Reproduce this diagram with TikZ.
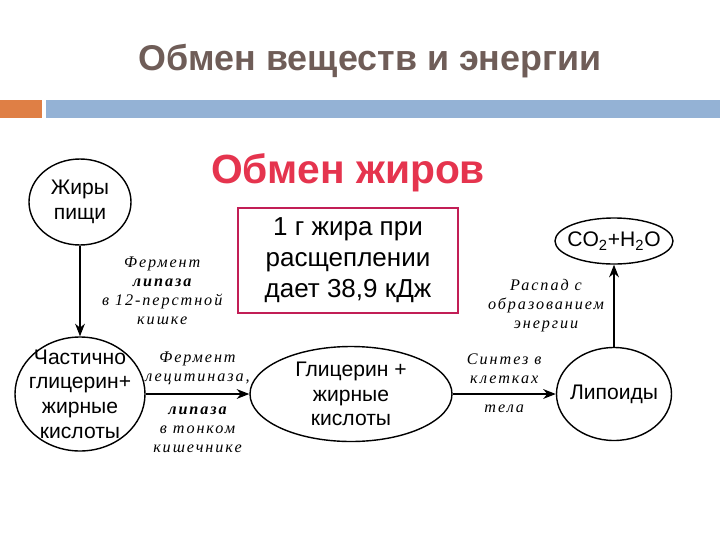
\documentclass[tikz,border=0pt]{standalone}
\usepackage{fontspec}
\setmainfont{Liberation Sans}
\newfontfamily\notefont[LetterSpace=12]{Liberation Serif}
\usepackage{tikz}
\usetikzlibrary{arrows.meta,shapes.geometric}
\definecolor{titlegray}{HTML}{6F5D58}
\definecolor{barorange}{HTML}{DF7F45}
\definecolor{barblue}{HTML}{94B2D5}
\definecolor{fatred}{HTML}{E5344E}
\definecolor{boxred}{HTML}{C21E56}
\tikzset{
  oval/.style={draw=black, line width=1pt, ellipse, inner sep=0pt},
  body/.style={font=\fontsize{15}{17.5}\selectfont, align=center, inner sep=0pt},
  flow/.style={draw=black, line width=0.9pt, -{Stealth[length=9pt,width=7pt]}},
  note/.style={font=\notefont\itshape\fontsize{11.5}{13.5}\selectfont, align=center, inner sep=1pt}
}

\begin{document}
\begin{tikzpicture}
  \useasboundingbox (0,0) rectangle (18,-13.5);

  % slide heading and bars
  \node[font=\bfseries\fontsize{25.5}{28}\selectfont, text=titlegray] (title) at (9.25,-1.52) {Обмен веществ и энергии};
  \fill[barorange] (0,-2.5) rectangle (1.05,-2.95);
  \fill[barblue] (1.15,-2.5) rectangle (18,-2.95);

  \node[font=\bfseries\fontsize{29}{32}\selectfont, text=fatred] (head) at (8.7,-4.33) {Обмен жиров};
  \node[draw=boxred, line width=1.3pt, minimum width=5.5cm, minimum height=2.62cm,
        font=\fontsize{18.5}{22}\selectfont, align=center] (fact) at (8.7,-6.51)
        {1 г жира при\\расщеплении\\дает 38,9 кДж};

  \node[oval, minimum width=2.55cm, minimum height=2.15cm,
        label={[body]center:{Жиры\\пищи}}] (fat) at (2.0,-5.05) {};
  \node[oval, minimum width=3.25cm, minimum height=2.85cm,
        label={[body]center:{Частично\\глицерин+\\жирные\\кислоты}}] (part) at (2.0,-9.85) {};
  \node[oval, minimum width=5.05cm, minimum height=2.375cm,
        label={[body]center:{Глицерин +\\жирные\\кислоты}}] (glyc) at (8.775,-9.85) {};
  \node[oval, minimum width=2.875cm, minimum height=2.325cm,
        label={[body]center:{Липоиды}}] (lip) at (15.35,-9.85) {};
  \node[oval, minimum width=2.95cm, minimum height=1.15cm,
        label={[body]center:{CO\textsubscript{2}+H\textsubscript{2}O}}] (co2) at (15.35,-6.025) {};

  \draw[flow] (fat) -- (part)
    node[midway, right=0.5cm, note] (duod) {Фермент\\\textbf{липаза}\\в 12-перстной\\кишке};
  \draw[flow] (part) -- (glyc)
    node[midway, above=5pt, note] (lec) {Фермент\\лецитиназа,}
    node[midway, below=8pt, note] (gut) {\textbf{липаза}\\в тонком\\кишечнике};
  \draw[flow] (glyc) -- (lip)
    node[midway, above=6pt, note] (synth) {Синтез в\\клетках}
    node[midway, below=6pt, note] (cell) {тела};
  \draw[flow] (lip) -- (co2)
    node[midway, left=0.2cm, note] (decay) {Распад с\\образованием\\энергии};
\end{tikzpicture}
\end{document}
